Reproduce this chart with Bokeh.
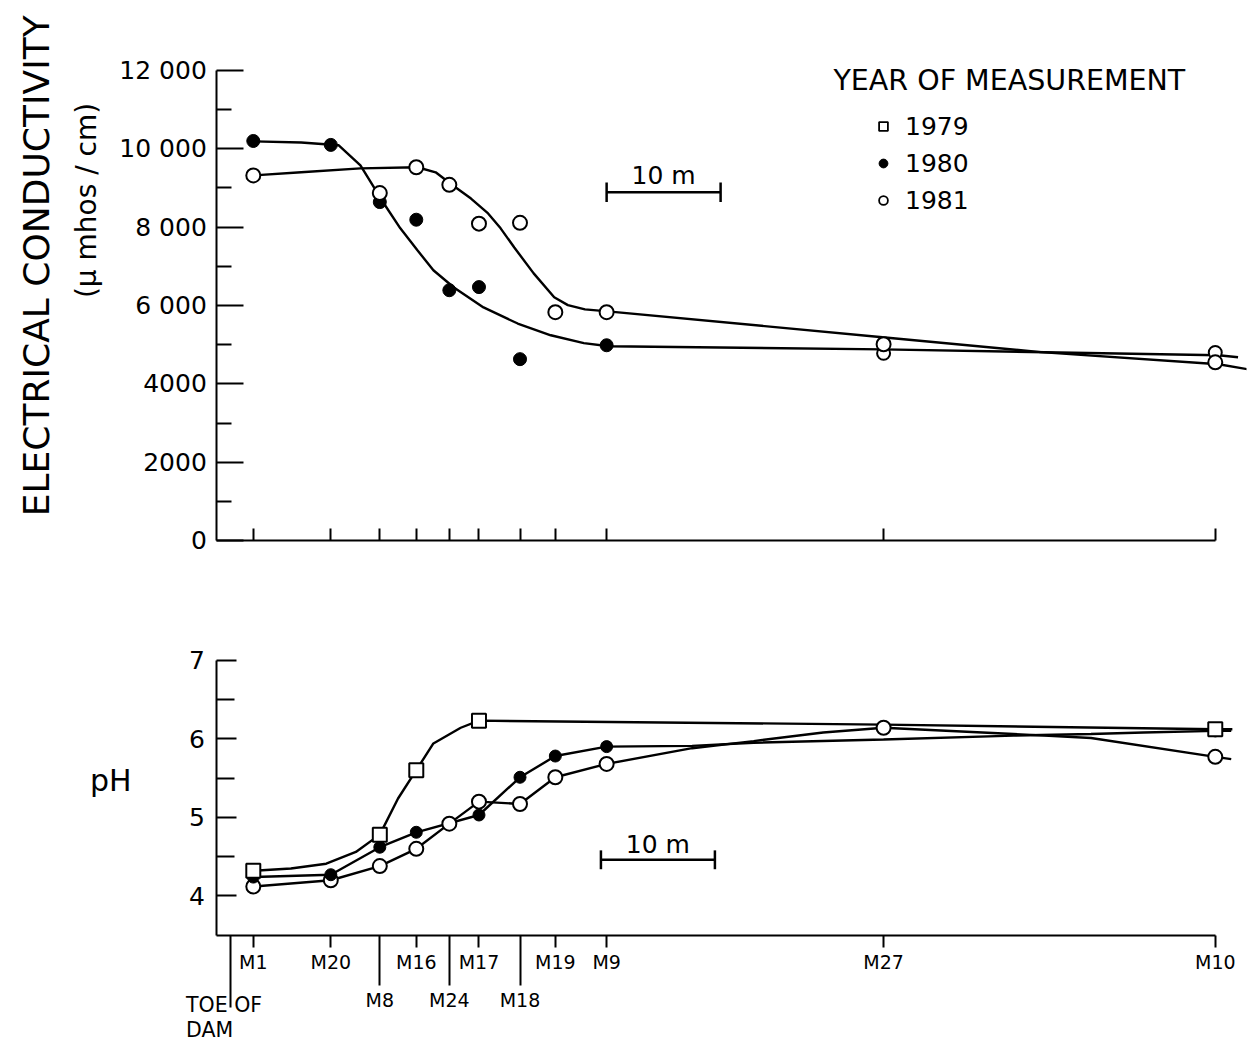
import math
from bokeh.plotting import figure
from bokeh.models import (Range1d, LinearAxis, FixedTicker, Label, Legend, LegendItem)
from bokeh.layouts import column
from bokeh.embed import file_html
from bokeh.resources import INLINE

FONT = "DejaVu Sans"

# ---------------- data ----------------
wells = ["M1", "M20", "M8", "M16", "M24", "M17", "M18", "M19", "M9", "M27", "M10"]
well_dist_m = [2.0, 8.8, 13.1, 16.3, 19.2, 21.8, 25.4, 28.5, 33.0, 57.3, 86.4]
toe_dist_m = 0.0
row1_wells = ["M1", "M20", "M16", "M17", "M19", "M9", "M27", "M10"]
row2_wells = ["M8", "M24", "M18"]

ec_ticks = [0, 2000, 4000, 6000, 8000, 10000, 12000]
ec_tick_labels = ["0", "2000", "4000", "6 000", "8 000", "10 000", "12 000"]
ph_ticks = [4, 5, 6, 7]

# Electrical conductivity (umhos/cm)
ec_1980_wells = ["M1", "M20", "M8", "M16", "M24", "M17", "M18", "M9", "M27", "M10"]
ec_1980 = [10200, 10100, 8640, 8190, 6390, 6470, 4630, 4985, 4780, 4800]
ec_1981_wells = ["M1", "M8", "M16", "M24", "M17", "M18", "M19", "M9", "M27", "M10"]
ec_1981 = [9320, 8870, 9530, 9080, 8090, 8110, 5830, 5830, 5010, 4550]

# hand-fitted curves
ec_curve_1980_x = [2.0, 6.2, 9.5, 11.4, 13.4, 14.9, 16.4, 17.8, 19.6, 22.2, 25.2, 28.1, 31.0, 33.2, 57.2, 86.7, 88.4]
ec_curve_1980_y = [10190, 10160, 10090, 9580, 8630, 7970, 7410, 6900, 6460, 5950, 5540, 5240, 5040, 4960, 4880, 4730, 4680]
ec_curve_1981_x = [2.0, 6.2, 11.4, 16.4, 18.0, 19.4, 21.1, 22.6, 23.7, 24.9, 26.6, 28.4, 29.6, 31.1, 33.1, 57.2, 71.1, 86.7, 89.7]
ec_curve_1981_y = [9320, 9400, 9500, 9530, 9400, 9090, 8730, 8350, 7970, 7480, 6820, 6210, 6010, 5900, 5850, 5190, 4810, 4500, 4350]

# pH
ph_1979_wells = ["M1", "M8", "M16", "M17", "M10"]
ph_1979 = [4.32, 4.78, 5.60, 6.23, 6.12]
ph_1980_wells = ["M1", "M20", "M8", "M16", "M17", "M18", "M19", "M9", "M10"]
ph_1980 = [4.24, 4.27, 4.62, 4.81, 5.03, 5.51, 5.78, 5.90, 6.10]
ph_1981_wells = ["M1", "M20", "M8", "M16", "M24", "M17", "M18", "M19", "M9", "M27", "M10"]
ph_1981 = [4.12, 4.20, 4.38, 4.60, 4.92, 5.20, 5.17, 5.51, 5.68, 6.14, 5.77]

ph_curve_1979_x = [2.0, 5.3, 8.4, 11.0, 13.1, 14.7, 16.3, 17.8, 20.2, 21.8, 57.3, 86.4, 87.9]
ph_curve_1979_y = [4.32, 4.35, 4.41, 4.56, 4.78, 5.24, 5.60, 5.94, 6.14, 6.23, 6.18, 6.12, 6.12]
ph_curve_1980_x = [2.0, 8.8, 13.1, 16.3, 21.8, 25.4, 28.5, 33.0, 40.5, 45.9, 57.3, 68.7, 75.5, 80.1, 86.4, 87.8]
ph_curve_1980_y = [4.24, 4.27, 4.62, 4.81, 5.03, 5.51, 5.78, 5.90, 5.91, 5.95, 5.99, 6.04, 6.06, 6.08, 6.10, 6.10]
ph_curve_1981_x = [2.0, 8.8, 13.1, 16.3, 19.2, 21.8, 25.4, 28.5, 33.0, 40.5, 45.9, 52.0, 57.3, 68.7, 75.5, 86.4, 87.8]
ph_curve_1981_y = [4.12, 4.20, 4.38, 4.60, 4.92, 5.20, 5.17, 5.51, 5.68, 5.88, 5.97, 6.08, 6.14, 6.06, 6.01, 5.77, 5.74]

SCALE_BAR_M = 10

# ---------------- helpers ----------------
pos = dict(zip(wells, well_dist_m))
X_RANGE = (-18.6, 89.14)
AXIS_X = -1.2          # where the vertical axes stand (m)
LW = 2.4
NAN = [math.nan]


def xs(names):
    return [pos[n] for n in names]


def style_fig(p):
    p.outline_line_color = None
    p.background_fill_color = "white"
    p.border_fill_color = "white"
    p.grid.grid_line_color = None
    p.grid.visible = False


def text_label(x, y, text, size, align="center", angle=0.0):
    return Label(x=x, y=y, text=text, text_align=align, text_baseline="middle", angle=angle,
                 text_font=FONT, text_font_size=size, text_color="black")


def blank(ticks):
    return {t: "" for t in ticks}


# ---------------- top: electrical conductivity ----------------
top = figure(frame_width=1228, frame_height=554, x_range=Range1d(*X_RANGE), y_range=Range1d(-612, 13531),
             output_backend="svg", toolbar_location=None, x_axis_location=None, y_axis_location=None,
             min_border_left=18, min_border_right=2, min_border_top=10, min_border_bottom=26)
style_fig(top)

yax = LinearAxis(ticker=FixedTicker(ticks=ec_ticks, minor_ticks=[1000, 3000, 5000, 7000, 9000, 11000]),
                 bounds=(0, 12000), fixed_location=AXIS_X)
yax.major_label_overrides = dict(zip(ec_ticks, ec_tick_labels))
yax.major_tick_in = 27
yax.major_tick_out = 0
yax.minor_tick_in = 15
yax.minor_tick_out = 0
yax.axis_line_width = 2
yax.major_tick_line_width = 2
yax.minor_tick_line_width = 2
yax.major_label_standoff = 10
yax.major_label_text_font = FONT
yax.major_label_text_font_size = "25px"
yax.major_label_text_color = "black"
top.add_layout(yax, "left")

top.add_layout(text_label(-17.0, 7015, "ELECTRICAL CONDUCTIVITY", "36px", angle=math.pi / 2))
top.add_layout(text_label(-12.6, 8680, "(\u03bc mhos / cm)", "28px", angle=math.pi / 2))

xax_top = LinearAxis(ticker=FixedTicker(ticks=well_dist_m), bounds=(AXIS_X, pos["M10"]), fixed_location=0)
xax_top.major_tick_in = 12
xax_top.major_tick_out = 0
xax_top.minor_tick_line_color = None
xax_top.axis_line_width = 2
xax_top.major_tick_line_width = 2
xax_top.major_label_overrides = blank(well_dist_m)
top.add_layout(xax_top, "below")

top.line(ec_curve_1980_x, ec_curve_1980_y, line_color="black", line_width=LW)
top.line(ec_curve_1981_x, ec_curve_1981_y, line_color="black", line_width=LW)

x80 = xs(ec_1980_wells)
top.scatter(x80[:8], ec_1980[:8], marker="circle", size=13, fill_color="black", line_color="black")
top.scatter(x80[8:], ec_1980[8:], marker="circle", size=13, fill_color="white", line_color="black", line_width=2)
top.scatter(xs(ec_1981_wells), ec_1981, marker="circle", size=14, fill_color="white", line_color="black",
            line_width=2)

# scale bar
sb_x0, sb_y = 33.0, 8890
top.segment(x0=[sb_x0], y0=[sb_y], x1=[sb_x0 + SCALE_BAR_M], y1=[sb_y], line_color="black", line_width=2.5)
top.segment(x0=[sb_x0, sb_x0 + SCALE_BAR_M], y0=[sb_y - 250] * 2, x1=[sb_x0, sb_x0 + SCALE_BAR_M],
            y1=[sb_y + 250] * 2, line_color="black", line_width=2.5)
top.add_layout(text_label(sb_x0 + SCALE_BAR_M / 2, 9330, "10 m", "25px"))

# legend (marker-only entries)
r79 = top.scatter(NAN, NAN, marker="square", size=11, fill_color="white", line_color="black", line_width=1.8)
r80 = top.scatter(NAN, NAN, marker="circle", size=12, fill_color="black", line_color="black")
r81 = top.scatter(NAN, NAN, marker="circle", size=12, fill_color="white", line_color="black", line_width=1.8)
legend = Legend(items=[LegendItem(label="1979", renderers=[r79]),
                       LegendItem(label="1980", renderers=[r80]),
                       LegendItem(label="1981", renderers=[r81])],
                location=(854, 349), orientation="vertical", glyph_width=22, glyph_height=30, label_height=30,
                spacing=7, padding=0, margin=0, border_line_color=None, background_fill_alpha=0,
                label_standoff=11, label_text_font=FONT, label_text_font_size="25px", label_text_color="black")
top.add_layout(legend)
top.add_layout(text_label(52.9, 11745, "YEAR OF MEASUREMENT", "28.5px", align="left"))

# ---------------- bottom: pH ----------------
bot = figure(frame_width=1228, frame_height=400, x_range=top.x_range, y_range=Range1d(2.161, 7.25),
             output_backend="svg", toolbar_location=None, x_axis_location=None, y_axis_location=None,
             min_border_left=18, min_border_right=2, min_border_top=50, min_border_bottom=1)
style_fig(bot)

pyax = LinearAxis(ticker=FixedTicker(ticks=ph_ticks, minor_ticks=[4.5, 5.5, 6.5]), bounds=(3.5, 7),
                  fixed_location=AXIS_X)
pyax.major_tick_in = 20
pyax.major_tick_out = 0
pyax.minor_tick_in = 18
pyax.minor_tick_out = 0
pyax.axis_line_width = 2
pyax.major_tick_line_width = 2
pyax.minor_tick_line_width = 2
pyax.major_label_standoff = 12
pyax.major_label_text_font = FONT
pyax.major_label_text_font_size = "25px"
pyax.major_label_text_color = "black"
bot.add_layout(pyax, "left")

bot.add_layout(text_label(-10.5, 5.47, "pH", "30px"))


def well_axis(names, tick_out, line=True):
    ax = LinearAxis(ticker=FixedTicker(ticks=xs(names)), fixed_location=3.5)
    if line:
        ax.bounds = (AXIS_X, pos["M10"])
        ax.axis_line_width = 2
    else:
        ax.axis_line_color = None
    ax.major_tick_in = 0
    ax.major_tick_out = tick_out
    ax.major_tick_line_width = 2
    ax.minor_tick_line_color = None
    ax.major_label_overrides = {pos[n]: n for n in names}
    ax.major_label_standoff = 4
    ax.major_label_text_font = FONT
    ax.major_label_text_font_size = "19px"
    ax.major_label_text_color = "black"
    return ax


bot.add_layout(well_axis(row1_wells, 12), "below")
bot.add_layout(well_axis(row2_wells, 50, line=False), "below")
toe_ax = LinearAxis(ticker=FixedTicker(ticks=[toe_dist_m]), fixed_location=3.5, axis_line_color=None,
                    major_tick_in=0, major_tick_out=72, major_tick_line_width=2, minor_tick_line_color=None)
toe_ax.major_label_overrides = blank([toe_dist_m])
bot.add_layout(toe_ax, "below")
bot.add_layout(text_label(-3.9, 2.61, "TOE  OF", "20.5px", align="left"))
bot.add_layout(text_label(-3.9, 2.29, "DAM", "20.5px", align="left"))

bot.line(ph_curve_1979_x, ph_curve_1979_y, line_color="black", line_width=LW)
bot.line(ph_curve_1980_x, ph_curve_1980_y, line_color="black", line_width=LW)
bot.line(ph_curve_1981_x, ph_curve_1981_y, line_color="black", line_width=LW)

bot.scatter(xs(ph_1981_wells), ph_1981, marker="circle", size=14, fill_color="white", line_color="black",
            line_width=2)
bot.scatter(xs(ph_1980_wells), ph_1980, marker="circle", size=12, fill_color="black", line_color="black")
bot.scatter(xs(ph_1979_wells), ph_1979, marker="square", size=14, fill_color="white", line_color="black",
            line_width=2)

sb2_x0, sb2_y = 32.5, 4.46
bot.segment(x0=[sb2_x0], y0=[sb2_y], x1=[sb2_x0 + SCALE_BAR_M], y1=[sb2_y], line_color="black", line_width=2.5)
bot.segment(x0=[sb2_x0, sb2_x0 + SCALE_BAR_M], y0=[sb2_y - 0.12] * 2, x1=[sb2_x0, sb2_x0 + SCALE_BAR_M],
            y1=[sb2_y + 0.12] * 2, line_color="black", line_width=2.5)
bot.add_layout(text_label(sb2_x0 + SCALE_BAR_M / 2, 4.66, "10 m", "25px"))

layout = column(top, bot, spacing=0)
open("out.html", "w").write(file_html(layout, INLINE))
